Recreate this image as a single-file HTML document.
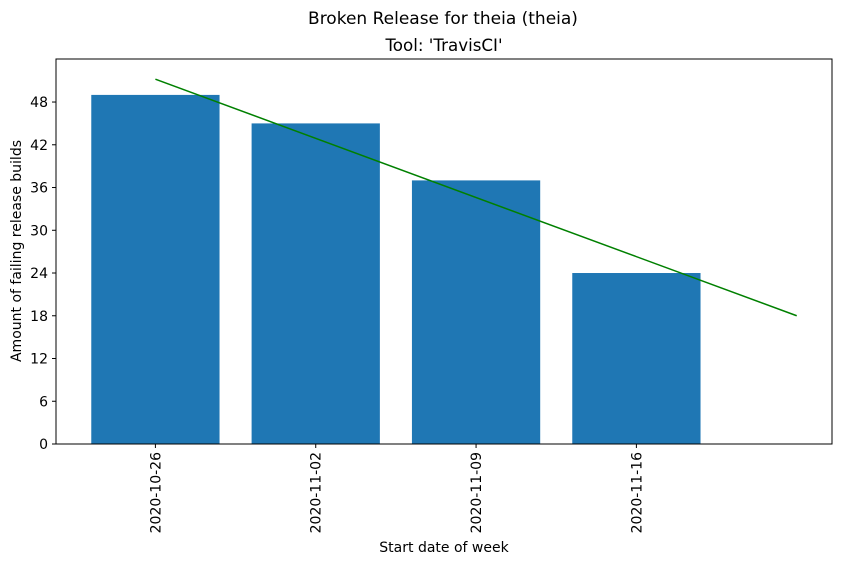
<!DOCTYPE html>
<html><head><meta charset="utf-8"><style>
body{margin:0;background:#fff}
svg text{font-family:"DejaVu Sans","Liberation Sans",sans-serif;fill:#000}
</style></head><body>
<svg id="c" width="842" height="564" xmlns="http://www.w3.org/2000/svg">
<rect width="842" height="564" fill="#fff"/>
<text x="443" y="24" font-size="17" text-anchor="middle">Broken Release for theia (theia)</text>
<text x="444" y="51" font-size="16.7" text-anchor="middle">Tool: 'TravisCI'</text>
<g id="plot"></g>
<text x="444" y="552" font-size="14" text-anchor="middle">Start date of week</text>
<text transform="translate(21,251) rotate(-90)" font-size="14" text-anchor="middle">Amount of failing release builds</text>
</svg>
<script>
const categories=["2020-10-26","2020-11-02","2020-11-09","2020-11-16"];
const values=[49,45,37,24];
const yTicks=[0,6,12,18,24,30,36,42,48];
const L=56,R=832,T=59,B=444,yMax=54.04,xMin=-0.62,xMax=4.22;
const sx=v=>L+(v-xMin)/(xMax-xMin)*(R-L);
const sy=v=>B-v/yMax*(B-T);
const NS="http://www.w3.org/2000/svg";
const g=document.getElementById('plot');
function mk(t,a){const e=document.createElementNS(NS,t);for(const k in a)e.setAttribute(k,a[k]);g.appendChild(e);return e;}
values.forEach((v,i)=>{
 const r=mk('rect',{x:sx(i-0.4),y:sy(v),width:sx(i+0.4)-sx(i-0.4),height:sy(0)-sy(v),fill:'#1f77b4'});
 
 
 const tk=mk('line',{x1:sx(i),x2:sx(i),y1:B,y2:B+4,stroke:'#000'});
 
 
 const tx=mk('text',{transform:`translate(${sx(i)+5},${B+8}) rotate(-90)`,'font-size':14,'text-anchor':'end'});
 tx.textContent=categories[i];
 
 
});
yTicks.forEach(v=>{
 const tk=mk('line',{x1:L-4,x2:L,y1:sy(v),y2:sy(v),stroke:'#000'});
 
 
 const tx=mk('text',{x:L-8,y:sy(v)+5,'font-size':14,'text-anchor':'end'});
 tx.textContent=v;
 
 
});
const n=values.length;let mx=0,my=0;values.forEach((v,i)=>{mx+=i;my+=v});mx/=n;my/=n;
let num=0,den=0;values.forEach((v,i)=>{num+=(i-mx)*(v-my);den+=(i-mx)**2});
const slope=num/den,ic=my-slope*mx;
const tl=mk('line',{x1:sx(0),y1:sy(ic),x2:sx(n),y2:sy(ic+slope*n),stroke:'#008000','stroke-width':1.5});


const fr=mk('rect',{x:L,y:T,width:R-L,height:B-T,fill:'none',stroke:'#000','stroke-width':1});


</script>
</body></html>
